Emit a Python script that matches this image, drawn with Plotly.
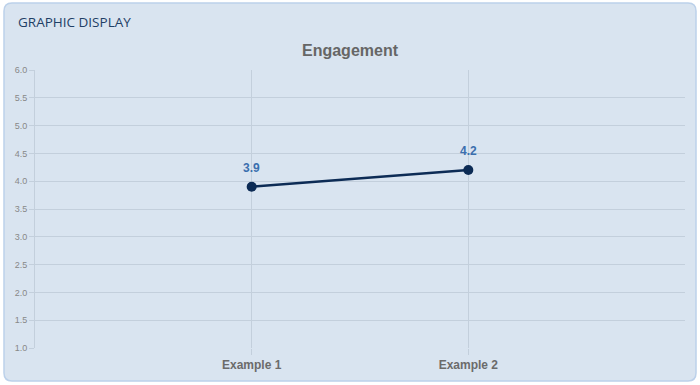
import plotly.graph_objects as go

categories = ["Example 1", "Example 2"]
values = [3.9, 4.2]
y_ticks = [1.0, 1.5, 2.0, 2.5, 3.0, 3.5, 4.0, 4.5, 5.0, 5.5, 6.0]

W, H = 700, 385
ML, MR, MT, MB = 35, 15, 70, 37
PW, PH = W - ML - MR, H - MT - MB

def px_x(p):
    return (p - ML) / PW

def px_y(p):
    return (H - MB - p) / PH

# rounded card path in paper coords
x0, x1, y0, y1, r = 4, 696, 3, 381, 8
def pt(x, y):
    return f"{px_x(x)},{px_y(y)}"
card = (f"M {pt(x0 + r, y0)} L {pt(x1 - r, y0)} Q {pt(x1, y0)} {pt(x1, y0 + r)} "
        f"L {pt(x1, y1 - r)} Q {pt(x1, y1)} {pt(x1 - r, y1)} "
        f"L {pt(x0 + r, y1)} Q {pt(x0, y1)} {pt(x0, y1 - r)} "
        f"L {pt(x0, y0 + r)} Q {pt(x0, y0)} {pt(x0 + r, y0)} Z")

xpos = list(range(1, len(categories) + 1))

fig = go.Figure()
fig.add_trace(go.Scatter(
    x=xpos, y=values, mode="lines+markers",
    line=dict(color="#0c2b55", width=2.5),
    marker=dict(color="#0c2b55", size=10),
    hoverinfo="skip",
))

labels = [dict(x=xv, y=v, xref="x", yref="y", text=f"<b>{v:.1f}</b>", showarrow=False,
               yshift=19, font=dict(family="Liberation Sans, Arial", size=12, color="#3b6fae"))
          for xv, v in zip(xpos, values)]

fig.update_layout(
    width=W, height=H,
    margin=dict(l=ML, r=MR, t=MT, b=MB),
    paper_bgcolor="white", plot_bgcolor="rgba(0,0,0,0)",
    showlegend=False,
    title=dict(text="<b>Engagement</b>", x=0.5, xanchor="center", y=1 - 50 / H, yanchor="middle",
               font=dict(family="Liberation Sans, Arial", size=16, color="#666666")),
    shapes=[dict(type="path", path=card, xref="paper", yref="paper",
                 fillcolor="#d9e4f0", line=dict(color="#bcd1ea", width=1.5), layer="below")],
    annotations=[dict(text="GRAPHIC DISPLAY", xref="paper", yref="paper",
                      x=px_x(16), y=px_y(22), xanchor="left", yanchor="middle", showarrow=False,
                      font=dict(family="Open Sans", size=13.5, color="#1f3f66"))] + labels,
)

fig.update_xaxes(range=[0, len(categories) + 1], tickvals=xpos, ticktext=categories,
                 showgrid=True, gridcolor="#c3cfdc", gridwidth=1, zeroline=False,
                 ticks="outside", ticklen=6, tickcolor="#c3cfdc",
                 tickfont=dict(family="Liberation Sans, Arial", size=12, color="#6b6b6b", weight="bold"),
                 showline=False, fixedrange=True)
fig.update_yaxes(range=[1, 6], tickvals=y_ticks, ticktext=[f"{v:.1f}" for v in y_ticks],
                 showgrid=True, gridcolor="#c3cfdc", gridwidth=1, zeroline=False,
                 ticks="outside", ticklen=5, tickcolor="#c3cfdc",
                 tickfont=dict(family="Liberation Sans, Arial", size=9, color="#888888"),
                 showline=True, linecolor="#c3cfdc", linewidth=1, fixedrange=True)

fig.write_html("out.html", config={"displayModeBar": False},
               post_script="document.body.style.margin='0';")
